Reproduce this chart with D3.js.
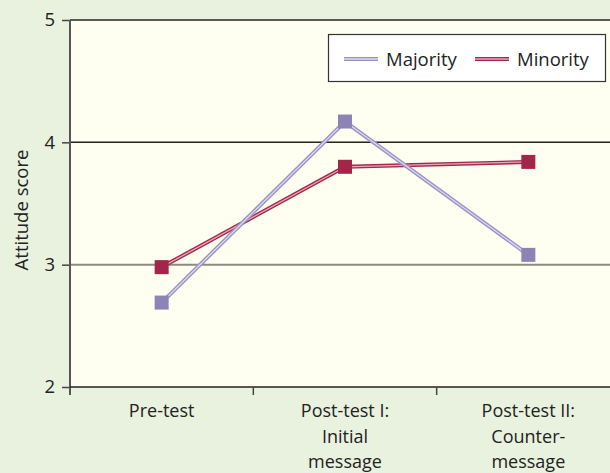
<!DOCTYPE html>
<html>
<head>
<meta charset="utf-8">
<script src="https://cdn.jsdelivr.net/npm/d3@7"></script>
<style>
  html, body { margin: 0; padding: 0; background: #e9f2de; }
  svg { display: block; font-family: "Open Sans", sans-serif; }
</style>
</head>
<body>
<svg id="chart"></svg>
<script>
const categories = ["Pre-test", "Post-test I:\nInitial\nmessage", "Post-test II:\nCounter-\nmessage"];
const majority = [2.69, 4.17, 3.08];
const minority = [2.98, 3.80, 3.84];
const yTicks = [2, 3, 4, 5];

const width = 610;
const height = 473;
const margin = { top: 20, right: -10, bottom: 86, left: 70 };

const svg = d3.select("#chart")
    .attr("width", width)
    .attr("height", height);

svg.append("rect")
    .attr("width", width)
    .attr("height", height)
    .attr("fill", "#e9f2de");

const x = d3.scaleBand()
    .domain(categories)
    .range([margin.left, width - margin.right]);

const y = d3.scaleLinear()
    .domain([2, 5])
    .range([height - margin.bottom, margin.top]);

// plot area
svg.append("rect")
    .attr("x", margin.left)
    .attr("y", y(5))
    .attr("width", width - margin.left)
    .attr("height", y(2) - y(5))
    .attr("fill", "#fefef1");

// horizontal lines
svg.append("line")
    .attr("x1", margin.left).attr("x2", width)
    .attr("y1", y(5)).attr("y2", y(5))
    .attr("stroke", "#5a5a55").attr("stroke-width", 2);
svg.append("line")
    .attr("x1", margin.left).attr("x2", width)
    .attr("y1", y(4)).attr("y2", y(4))
    .attr("stroke", "#222").attr("stroke-width", 1.5);
svg.append("line")
    .attr("x1", margin.left).attr("x2", width)
    .attr("y1", y(3)).attr("y2", y(3))
    .attr("stroke", "#8c8c80").attr("stroke-width", 2);

// y axis
const yAxis = svg.append("g")
    .attr("transform", `translate(${margin.left},0)`)
    .call(d3.axisLeft(y).tickValues(yTicks).tickFormat(d3.format("d")).tickSize(8).tickPadding(7));
yAxis.select(".domain").remove();
yAxis.selectAll(".tick line").attr("stroke", "#444").attr("stroke-width", 1.5);
yAxis.selectAll("text").attr("font-size", 18.5).attr("fill", "#222")
    .attr("font-family", "Open Sans, sans-serif");
svg.append("line")
    .attr("x1", margin.left).attr("x2", margin.left)
    .attr("y1", y(5)).attr("y2", y(2) + 8)
    .attr("stroke", "#555").attr("stroke-width", 2);

// x axis
const xAxis = svg.append("g")
    .attr("transform", `translate(0,${y(2)})`);
xAxis.append("line")
    .attr("x1", margin.left).attr("x2", width)
    .attr("stroke", "#222").attr("stroke-width", 1.5);
xAxis.selectAll(".xtick")
    .data(categories.slice(1))
    .enter().append("line")
    .attr("x1", d => x(d)).attr("x2", d => x(d))
    .attr("y1", 0).attr("y2", 8)
    .attr("stroke", "#444").attr("stroke-width", 1.5);
xAxis.selectAll(".xlabel")
    .data(categories)
    .enter().append("text")
    .attr("text-anchor", "middle")
    .attr("font-size", 18)
    .attr("fill", "#222")
    .selectAll("tspan")
    .data(d => d.split("\n").map(t => ({ t, c: d })))
    .enter().append("tspan")
    .attr("x", d => x(d.c) + x.bandwidth() / 2)
    .attr("y", (d, i) => 30 + i * 25.5)
    .text(d => d.t);

// y label
svg.append("text")
    .attr("transform", `translate(28,210) rotate(-90)`)
    .attr("text-anchor", "middle")
    .attr("font-size", 18.5)
    .attr("fill", "#222")
    .text("Attitude score");

const series = [
    { name: "Minority", values: minority, outer: "#a3284d", inner: "#eba7b8" },
    { name: "Majority", values: majority, outer: "#9a94c4", inner: "#dddbee" }
];

const line = d3.line()
    .x((d, i) => x(categories[i]) + x.bandwidth() / 2)
    .y(d => y(d));

series.forEach(s => {
    svg.append("path")
        .attr("d", line(s.values))
        .attr("fill", "none")
        .attr("stroke", s.outer)
        .attr("stroke-width", 4);
    svg.append("path")
        .attr("d", line(s.values))
        .attr("fill", "none")
        .attr("stroke", s.inner)
        .attr("stroke-width", 1.3);
});

const markerColor = { Minority: "#a3264a", Majority: "#8b84b5" };
series.forEach(s => {
    svg.selectAll(null)
        .data(s.values)
        .enter().append("rect")
        .attr("x", (d, i) => x(categories[i]) + x.bandwidth() / 2 - 7)
        .attr("y", d => y(d) - 7)
        .attr("width", 14)
        .attr("height", 14)
        .attr("fill", markerColor[s.name]);
});

// legend
const legend = svg.append("g");
legend.append("rect")
    .attr("x", 328.5).attr("y", 34.5)
    .attr("width", 277).attr("height", 47)
    .attr("fill", "#fff")
    .attr("stroke", "#333").attr("stroke-width", 1.2);

const legendItems = [
    { name: "Majority", outer: "#9a94c4", inner: "#dddbee", x0: 344 },
    { name: "Minority", outer: "#a3284d", inner: "#eba7b8", x0: 475 }
];
legendItems.forEach(d => {
    legend.append("line")
        .attr("x1", d.x0).attr("x2", d.x0 + 34)
        .attr("y1", 59).attr("y2", 59)
        .attr("stroke", d.outer).attr("stroke-width", 4);
    legend.append("line")
        .attr("x1", d.x0).attr("x2", d.x0 + 34)
        .attr("y1", 59).attr("y2", 59)
        .attr("stroke", d.inner).attr("stroke-width", 1.3);
    legend.append("text")
        .attr("x", d.x0 + 42)
        .attr("y", 65.5)
        .attr("font-size", 18.5)
        .attr("fill", "#222")
        .text(d.name);
});
</script>
</body>
</html>
